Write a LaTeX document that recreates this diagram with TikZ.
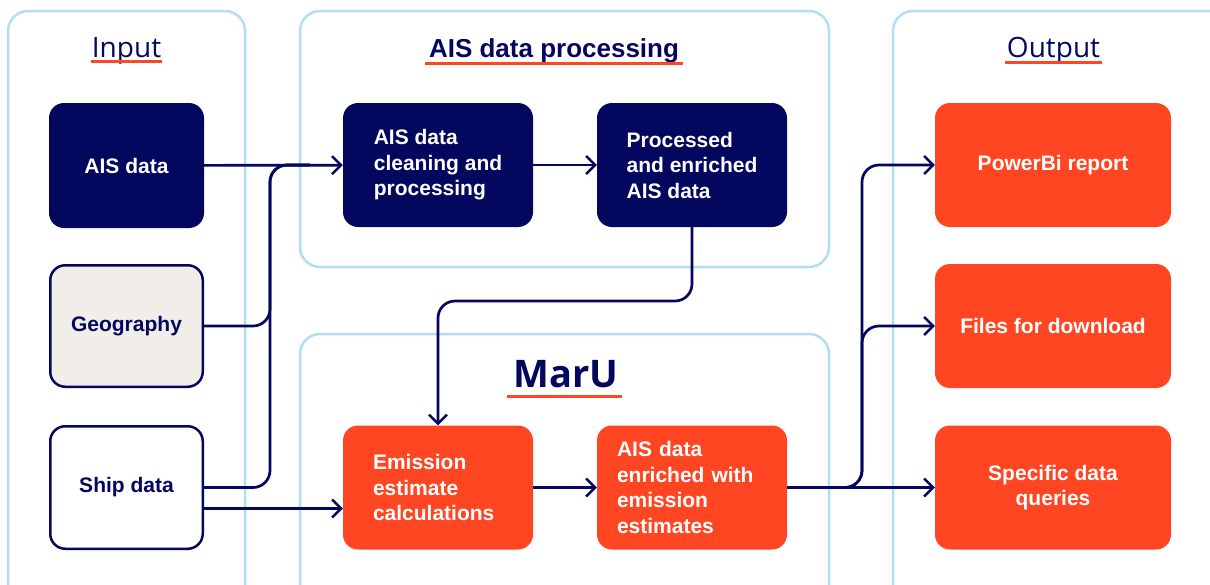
\documentclass[tikz,border=0pt]{standalone}
\usepackage{fontspec}
\setmainfont{Liberation Sans}
\newfontfamily\titlefont{Open Sans}
\usetikzlibrary{arrows.meta,calc}
\definecolor{navy}{HTML}{03075E}
\definecolor{orng}{HTML}{FF4521}
\definecolor{sky}{HTML}{B3DDF2}
\definecolor{sand}{HTML}{F1EEEA}
\begin{document}
\begin{tikzpicture}[x=1pt,y=-1pt,
  box/.style={rounded corners=15pt, inner sep=0pt, align=left,
    font=\fontsize{21}{25.5}\selectfont\bfseries},
  inbox/.style={box, minimum width=155pt, minimum height=125pt},
  midbox/.style={box, minimum width=190pt, minimum height=124pt},
  outbox/.style={box, align=center, minimum width=236pt, minimum height=124pt, fill=orng, text=white},
  darkbox/.style={fill=navy, text=white},
  orbox/.style={fill=orng, text=white},
  lightbox/.style={fill=sand, draw=navy, line width=2.5pt, text=navy},
  whitebox/.style={fill=white, draw=navy, line width=2.5pt, text=navy},
  frame/.style={draw=sky, line width=2.5pt, rounded corners=20pt},
  conn/.style={draw=navy, line width=2.7pt, rounded corners=17pt},
  arr/.style={conn, -{Straight Barb[length=9pt,width=18pt,line width=2.5pt]}},
  ttl/.style={text=navy, inner sep=0pt, anchor=base},
  ul/.style={draw=orng, line width=3pt},
]
\useasboundingbox (0,0) rectangle (1210,584);
\clip (0,0) rectangle (1210,584);
\fill[white] (0,0) rectangle (1210,584);
% frames
\draw[frame] (8,11) rectangle (245,640);
\draw[frame] (300,11) rectangle (829,267);
\draw[frame] (300,334) rectangle (829,640);
\draw[frame] (893,11) rectangle (1260,640);
% titles
\node[ttl, font=\titlefont\fontsize{28}{30}\selectfont] (tin) at (126.5,57) {Input};
\draw[ul] (91,61.5) -- (162,61.5);
\node[ttl, font=\fontsize{26}{30}\selectfont\bfseries] (tais) at (554,57) {AIS data processing};
\draw[ul] (425,63) -- (683,63);
\node[ttl, font=\titlefont\fontsize{28}{30}\selectfont] (tout) at (1053.5,57) {Output};
\draw[ul] (1005,62) -- (1102,62);
\node[ttl, font=\titlefont\fontsize{38}{40}\selectfont\bfseries] (tmaru) at (566,387) {MarU};
\draw[ul] (507,396) -- (622,396);
% nodes
\node[inbox, darkbox] (ais) at (126.5,165.5) {AIS data};
\node[inbox, lightbox, minimum width=152.5pt, minimum height=121.5pt] (geo) at (126.5,326) {Geography};
\node[inbox, whitebox, minimum width=152.5pt, minimum height=122.5pt] (ship) at (126.5,487.5) {Ship data};
\node[midbox, darkbox] (clean) at (438,165) {AIS data\\cleaning and\\processing};
\node[midbox, darkbox] (proc) at (692,165) {Processed\\and enriched\\AIS data};
\node[midbox, orbox, text width=130pt, inner xsep=30pt] (emis) at (438,487.5) {Emission\\estimate\\calculations};
\node[midbox, orbox, text width=150pt, inner xsep=20pt] (enr) at (692,487.5) {AIS data\\enriched with\\emission\\estimates};
\node[outbox] (pbi) at (1053,165) {PowerBi report};
\node[outbox] (files) at (1053,326) {Files for download};
\node[outbox] (spec) at (1053,487.5) {Specific data\\queries};
% junction coordinates
\coordinate (jin) at (270,165);
\coordinate (jmid) at (0,301);
\coordinate (jout) at (862,400);
% connectors
\draw[arr] (ais) -- (clean);
\draw[conn] (geo.east) -| (jin) -- ([xshift=40pt]jin);
\draw[conn] (ship.east) -| (jin) -- ([xshift=40pt]jin);
\draw[arr, line width=3.5pt] ([yshift=-21pt]ship.east) -- ([yshift=-21pt]emis.west);
\draw[arr] (clean) -- (proc);
\draw[arr] (proc.south) |- (emis.north |- jmid) -- (emis.north);
\draw[arr] (emis) -- (enr);
\draw[arr, line width=3.5pt] (enr) -- (spec);
\draw[arr] (enr.east) -| (jout) |- (pbi.west);
\draw[arr] (enr.east) -| (jout) |- (files.west);
\end{tikzpicture}
\end{document}
